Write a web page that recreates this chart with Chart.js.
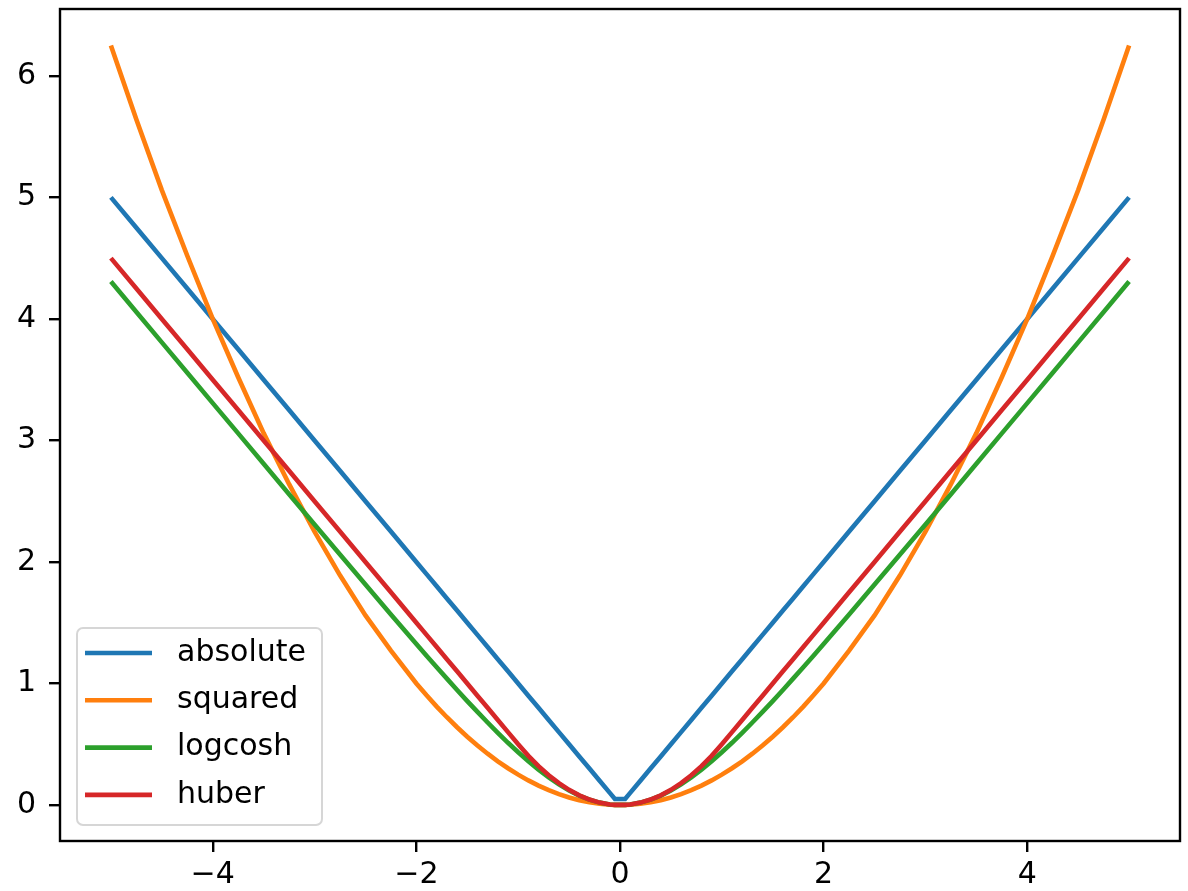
<!DOCTYPE html>
<html>
<head>
<meta charset="utf-8">
<style>
  html, body { margin: 0; padding: 0; background: #fff; }
  #wrap { width: 1188px; height: 891px; }
</style>
<script src="https://cdn.jsdelivr.net/npm/chart.js@4/dist/chart.umd.min.js"></script>
</head>
<body>
<div id="wrap"><canvas id="lossChart" width="1188" height="891"></canvas></div>
<script>
// sample positions along x (denser around the minimum)
const xs = [
  -5, -4.75, -4.5, -4.25, -4, -3.75, -3.5, -3.25, -3, -2.75, -2.5, -2.25,
  -2, -1.9, -1.8, -1.7, -1.6, -1.5, -1.4, -1.3, -1.2, -1.1,
  -1, -0.9, -0.8, -0.7, -0.6, -0.5, -0.4, -0.3, -0.2, -0.1, -0.05,
  0.05, 0.1, 0.2, 0.3, 0.4, 0.5, 0.6, 0.7, 0.8, 0.9, 1,
  1.1, 1.2, 1.3, 1.4, 1.5, 1.6, 1.7, 1.8, 1.9, 2,
  2.25, 2.5, 2.75, 3, 3.25, 3.5, 3.75, 4, 4.25, 4.5, 4.75, 5,
];

const absoluteLoss = [
  5, 4.75, 4.5, 4.25, 4, 3.75, 3.5, 3.25, 3, 2.75, 2.5, 2.25,
  2, 1.9, 1.8, 1.7, 1.6, 1.5, 1.4, 1.3, 1.2, 1.1,
  1, 0.9, 0.8, 0.7, 0.6, 0.5, 0.4, 0.3, 0.2, 0.1, 0.05,
  0.05, 0.1, 0.2, 0.3, 0.4, 0.5, 0.6, 0.7, 0.8, 0.9, 1,
  1.1, 1.2, 1.3, 1.4, 1.5, 1.6, 1.7, 1.8, 1.9, 2,
  2.25, 2.5, 2.75, 3, 3.25, 3.5, 3.75, 4, 4.25, 4.5, 4.75, 5,
];

const squaredLoss = [
  6.25, 5.64, 5.06, 4.52, 4.0, 3.52, 3.06, 2.64, 2.25, 1.89, 1.56, 1.27,
  1.0, 0.9025, 0.81, 0.7225, 0.64, 0.5625, 0.49, 0.4225, 0.36, 0.3025,
  0.25, 0.2025, 0.16, 0.1225, 0.09, 0.0625, 0.04, 0.0225, 0.01, 0.0025, 0.0006,
  0.0006, 0.0025, 0.01, 0.0225, 0.04, 0.0625, 0.09, 0.1225, 0.16, 0.2025, 0.25,
  0.3025, 0.36, 0.4225, 0.49, 0.5625, 0.64, 0.7225, 0.81, 0.9025, 1.0,
  1.27, 1.56, 1.89, 2.25, 2.64, 3.06, 3.52, 4.0, 4.52, 5.06, 5.64, 6.25,
];

const logcoshLoss = [
  4.307, 4.057, 3.807, 3.557, 3.307, 3.058, 2.808, 2.558, 2.309, 2.061, 1.814, 1.568,
  1.325, 1.229, 1.134, 1.040, 0.947, 0.855, 0.766, 0.679, 0.594, 0.512,
  0.434, 0.360, 0.291, 0.227, 0.170, 0.120, 0.078, 0.044, 0.020, 0.005, 0.0013,
  0.0013, 0.005, 0.020, 0.044, 0.078, 0.120, 0.170, 0.227, 0.291, 0.360, 0.434,
  0.512, 0.594, 0.679, 0.766, 0.855, 0.947, 1.040, 1.134, 1.229, 1.325,
  1.568, 1.814, 2.061, 2.309, 2.558, 2.808, 3.058, 3.307, 3.557, 3.807, 4.057, 4.307,
];

const huberLoss = [
  4.5, 4.25, 4.0, 3.75, 3.5, 3.25, 3.0, 2.75, 2.5, 2.25, 2.0, 1.75,
  1.5, 1.4, 1.3, 1.2, 1.1, 1.0, 0.9, 0.8, 0.7, 0.6,
  0.5, 0.405, 0.32, 0.245, 0.18, 0.125, 0.08, 0.045, 0.02, 0.005, 0.0013,
  0.0013, 0.005, 0.02, 0.045, 0.08, 0.125, 0.18, 0.245, 0.32, 0.405, 0.5,
  0.6, 0.7, 0.8, 0.9, 1.0, 1.1, 1.2, 1.3, 1.4, 1.5,
  1.75, 2.0, 2.25, 2.5, 2.75, 3.0, 3.25, 3.5, 3.75, 4.0, 4.25, 4.5,
];

const seriesNames = ["absolute", "squared", "logcosh", "huber"];
const seriesColors = ["#1f77b4", "#ff7f0e", "#2ca02c", "#d62728"];
const xTicks = [-4, -2, 0, 2, 4];
const yTicks = [0, 1, 2, 3, 4, 5, 6];

const FONT = "DejaVu Sans";
const FONT_SIZE = 30;

const toPoints = (vals) => xs.map((x, i) => ({x: x, y: vals[i]}));
const allSeries = [absoluteLoss, squaredLoss, logcoshLoss, huberLoss];

const datasets = allSeries.map((vals, i) => ({
  label: seriesNames[i],
  data: toPoints(vals),
  borderColor: seriesColors[i],
  backgroundColor: seriesColors[i],
  borderWidth: 4.6,
  pointRadius: 0,
  tension: 0,
  fill: false,
  // later series paint on top
  order: allSeries.length - 1 - i,
}));

const minus = (v) => String(v).replace("-", "\u2212");

// axes box around the plot area
const frame = {
  id: "frame",
  afterDatasetsDraw(chart) {
    const {ctx, chartArea: a} = chart;
    ctx.save();
    ctx.strokeStyle = "#000";
    ctx.lineWidth = 2.4;
    ctx.strokeRect(a.left, a.top, a.right - a.left, a.bottom - a.top);
    ctx.restore();
  },
};

// legend drawn inside the lower-left corner
const innerLegend = {
  id: "innerLegend",
  afterDraw(chart) {
    const {ctx, chartArea: a} = chart;
    const w = 245;
    const h = 197;
    const x0 = a.left + 17;
    const y0 = a.bottom - 16 - h;
    ctx.save();
    ctx.beginPath();
    ctx.roundRect(x0, y0, w, h, 6);
    ctx.fillStyle = "rgba(255,255,255,0.8)";
    ctx.fill();
    ctx.lineWidth = 2;
    ctx.strokeStyle = "rgba(204,204,204,0.8)";
    ctx.stroke();

    ctx.font = FONT_SIZE + "px '" + FONT + "'";
    ctx.textBaseline = "middle";
    ctx.textAlign = "left";
    chart.data.datasets.forEach((ds, i) => {
      const cy = y0 + 25 + i * 47.3;
      ctx.beginPath();
      ctx.moveTo(x0 + 8, cy);
      ctx.lineTo(x0 + 75, cy);
      ctx.strokeStyle = ds.borderColor;
      ctx.lineWidth = 4.6;
      ctx.stroke();
      ctx.fillStyle = "#000";
      ctx.fillText(ds.label, x0 + 100, cy);
    });
    ctx.restore();
  },
};

const tickGrid = {
  drawOnChartArea: false,
  drawTicks: true,
  tickLength: 11,
  color: "#000",
  lineWidth: 2.4,
};

const ctx = document.getElementById("lossChart").getContext("2d");
const lossChart = new Chart(ctx, {
  type: "line",
  data: {datasets: datasets},
  options: {
    responsive: false,
    animation: false,
    layout: {padding: {top: 9, right: 8, left: 0, bottom: 0}},
    plugins: {
      legend: {display: false},
      tooltip: {enabled: false},
    },
    scales: {
      x: {
        type: "linear",
        min: -5.5,
        max: 5.5,
        grid: tickGrid,
        border: {display: false},
        afterBuildTicks: (scale) => {
          scale.ticks = xTicks.map((v) => ({value: v}));
        },
        afterFit: (scale) => {
          scale.height = 50;
          scale.paddingLeft = 0;
          scale.paddingRight = 0;
        },
        ticks: {
          color: "#000",
          padding: 5,
          maxRotation: 0,
          autoSkip: false,
          font: {family: FONT, size: FONT_SIZE},
          callback: (v) => minus(v),
        },
      },
      y: {
        type: "linear",
        min: -0.296,
        max: 6.55,
        grid: tickGrid,
        border: {display: false},
        afterBuildTicks: (scale) => {
          scale.ticks = yTicks.map((v) => ({value: v}));
        },
        afterFit: (scale) => {
          scale.width = 60;
          scale.paddingTop = 0;
          scale.paddingBottom = 0;
        },
        ticks: {
          color: "#000",
          padding: 13,
          autoSkip: false,
          font: {family: FONT, size: FONT_SIZE},
          callback: (v) => minus(v),
        },
      },
    },
  },
  plugins: [frame, innerLegend],
});
</script>
</body>
</html>
